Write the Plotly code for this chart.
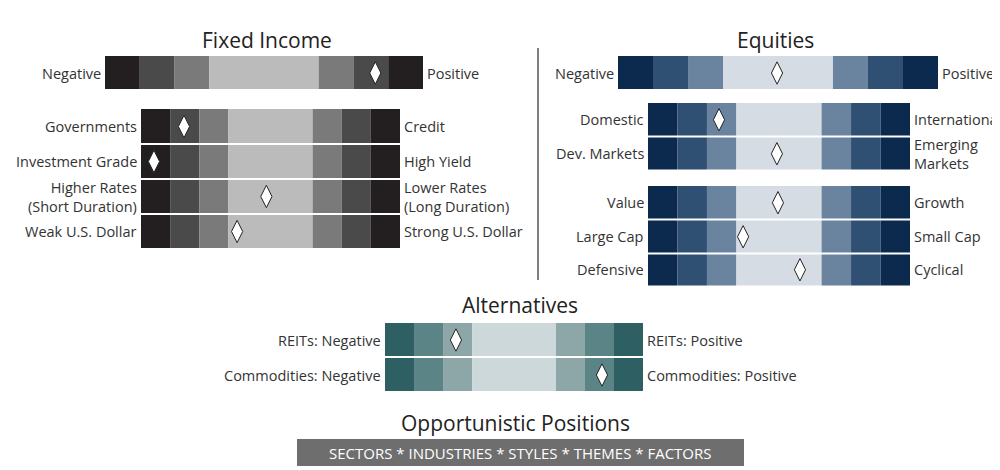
import plotly.graph_objects as go

# ---- data ----
fi_top_labels = ["Negative", "Positive"]
fi_top_pos = [0.85]
fi_left = ["Governments", "Investment Grade", "Higher Rates<br>(Short Duration)", "Weak U.S. Dollar"]
fi_right = ["Credit", "High Yield", "Lower Rates<br>(Long Duration)", "Strong U.S. Dollar"]
fi_pos = [0.166, 0.05, 0.484, 0.371]

eq_top_pos = [0.497]
eq_left = ["Domestic", "Dev. Markets", "Value", "Large Cap", "Defensive"]
eq_right = ["International", "Emerging<br>Markets", "Growth", "Small Cap", "Cyclical"]
eq_pos = [0.271, 0.492, 0.496, 0.363, 0.58]

alt_left = ["REITs: Negative", "Commodities: Negative"]
alt_right = ["REITs: Positive", "Commodities: Positive"]
alt_pos = [0.275, 0.841]

gray = ["#231f20", "#4b4a4b", "#7b7a7b", "#bcbbbc"]
blue = ["#0b2a4d", "#2f5072", "#6a84a0", "#d6dce4"]
teal = ["#2e5f63", "#5b8486", "#8da6a7", "#cdd8da"]

fig = go.Figure()
shapes, annots = [], []
dx, dy = [], []

def bar(x0, x1, y0, y1, cols, pos, left, right, lx_off=4, top_label=False):
    w = x1 - x0
    side = w * 0.1125 if not top_label else w * 0.1094
    edges = [x0, x0 + side, x0 + 2*side, x0 + 3*side, x1 - 3*side, x1 - 2*side, x1 - side, x1]
    seq = [0, 1, 2, 3, 2, 1, 0]
    for i in range(7):
        shapes.append(dict(type="rect", x0=edges[i], x1=edges[i+1], y0=y0, y1=y1,
                           fillcolor=cols[seq[i]], line=dict(width=0), layer="below"))
    shapes.append(dict(type="line", x0=x0, x1=x1, y0=y1, y1=y1, line=dict(color="white", width=2)))
    dx.append(x0 + pos * w); dy.append((y0 + y1) / 2)
    ym = (y0 + y1) / 2
    annots.append(dict(x=x0 - 2, y=ym, text=left, xanchor="right", showarrow=False, align="right"))
    annots.append(dict(x=x1 + 2, y=ym, text=right, xanchor="left", showarrow=False, align="left"))

bar(97, 415, 48, 82, gray, fi_top_pos[0], fi_top_labels[0], fi_top_labels[1], top_label=True)
for i, (l, r, p) in enumerate(zip(fi_left, fi_right, fi_pos)):
    bar(133, 392, 101 + 35*i, 136 + 35*i, gray, p, l, r)

bar(610, 930, 48, 82, blue, eq_top_pos[0], "Negative", "Positive", top_label=True)
eq_y = [95, 129, 178, 212, 245]
for l, r, p, y in zip(eq_left, eq_right, eq_pos, eq_y):
    bar(640, 902, y, y + 33.5, blue, p, l, r)

for i, (l, r, p) in enumerate(zip(alt_left, alt_right, alt_pos)):
    bar(377, 635, 315 + 35*i, 349 + 35*i, teal, p, l, r)

shapes.append(dict(type="line", x0=530, x1=530, y0=40, y1=272, line=dict(color="#555", width=1.5)))
shapes.append(dict(type="rect", x0=288, x1=737, y0=430, y1=459, fillcolor="#6e6e6e",
                   line=dict(color="white", width=2)))

for t, x, y in [("Fixed Income", 259, 32), ("Equities", 767, 32), ("Alternatives", 512, 297),
                ("Opportunistic Positions", 507, 415)]:
    annots.append(dict(x=x, y=y, text=t, showarrow=False, font=dict(size=21, color="#222")))
annots.append(dict(x=512, y=445, text="SECTORS * INDUSTRIES * STYLES * THEMES * FACTORS",
                   showarrow=False, font=dict(size=15, color="white")))

fig.add_trace(go.Scatter(x=dx, y=dy, mode="markers", hoverinfo="skip",
                         marker=dict(symbol="diamond-tall", size=16, color="white",
                                     line=dict(color="#222", width=1))))

fig.update_layout(width=1000, height=470, margin=dict(l=0, r=0, t=0, b=0),
                  plot_bgcolor="white", paper_bgcolor="white", showlegend=False,
                  shapes=shapes, annotations=annots,
                  font=dict(family="Open Sans", size=14.5, color="#333"),
                  xaxis=dict(range=[0, 1000], visible=False, fixedrange=True),
                  yaxis=dict(range=[470, 0], visible=False, fixedrange=True))
fig.write_html("out.html")
